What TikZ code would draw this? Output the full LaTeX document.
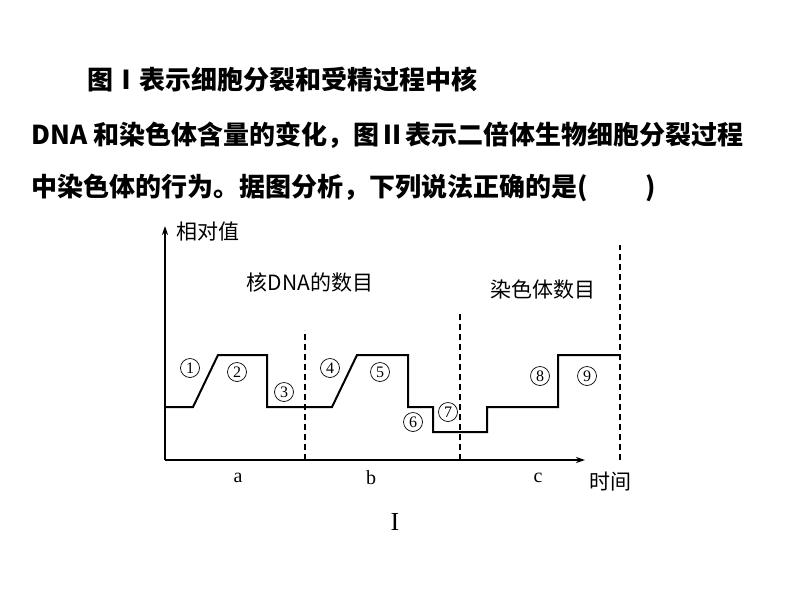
\documentclass[tikz,border=0pt]{standalone}
\usepackage{fontspec}
\setmainfont{Liberation Serif}
\newfontfamily\cjk{Noto Sans CJK SC}
\usetikzlibrary{arrows.meta}
\begin{document}
\begin{tikzpicture}[x=1pt,y=-1pt,
  ax/.style={line width=1.4pt,-{Stealth[length=9pt,width=6pt]}},
  curve/.style={line width=2pt},
  vdash/.style={line width=1.3pt,dash pattern=on 6pt off 4pt},
  head/.style={anchor=west,font=\fontsize{26}{30}\selectfont\bfseries\cjk},
  lab/.style={font=\fontsize{21}{24}\selectfont\cjk},
  ltr/.style={font=\fontsize{20}{24}\selectfont},
  num/.style={circle,draw,line width=0.7pt,inner sep=0pt,minimum size=19pt,font=\fontsize{16}{18}\selectfont}]
\useasboundingbox (0,0) rectangle (800,600);
\node[head] (t1) at (84,80) {图Ⅰ表示细胞分裂和受精过程中核};
\node[head] (t2) at (28,135) {DNA 和染色体含量的变化，图Ⅱ表示二倍体生物细胞分裂过程};
\node[head] (t3) at (28,188) {中染色体的行为。据图分析，下列说法正确的是(\hspace{2.2em})};
\coordinate (o) at (165,460);
\coordinate (yt) at (165,226);
\coordinate (xt) at (585,460);
\draw[ax] (o) -- (yt);
\draw[ax] (o) -- (xt);
\node[lab,anchor=west] (yl) at (173,232) {相对值};
\node[lab] (xl) at (610,482) {时间};
\draw[curve] (165,407) -- (193,407) -- (218,355) -- (267,355) -- (267,407) -- (332,407) -- (357,355) -- (408,355) -- (408,407) -- (433,407) -- (433,432) -- (487,432) -- (487,407) -- (558,407) -- (558,355) -- (620,355);
\draw[vdash] (305,460) -- (305,330);
\draw[vdash] (460,460) -- (460,312);
\draw[vdash] (620,460) -- (620,245);
\node[lab] (d1) at (310,283) {核DNA的数目};
\node[lab] (d2) at (543,290) {染色体数目};
\node[num] (n1) at (190,368) {1};
\node[num] (n2) at (237,372) {2};
\node[num] (n3) at (284,392) {3};
\node[num] (n4) at (330,368) {4};
\node[num] (n5) at (380,372) {5};
\node[num] (n6) at (413,422) {6};
\node[num] (n7) at (448,412) {7};
\node[num] (n8) at (540,376) {8};
\node[num] (n9) at (587,376) {9};
\node[ltr] (a) at (238,478) {a};
\node[ltr] (b) at (371,478) {b};
\node[ltr] (c) at (538,478) {c};
\node[font=\fontsize{26}{30}\selectfont] (I) at (395,522) {I};
\end{tikzpicture}
\end{document}
